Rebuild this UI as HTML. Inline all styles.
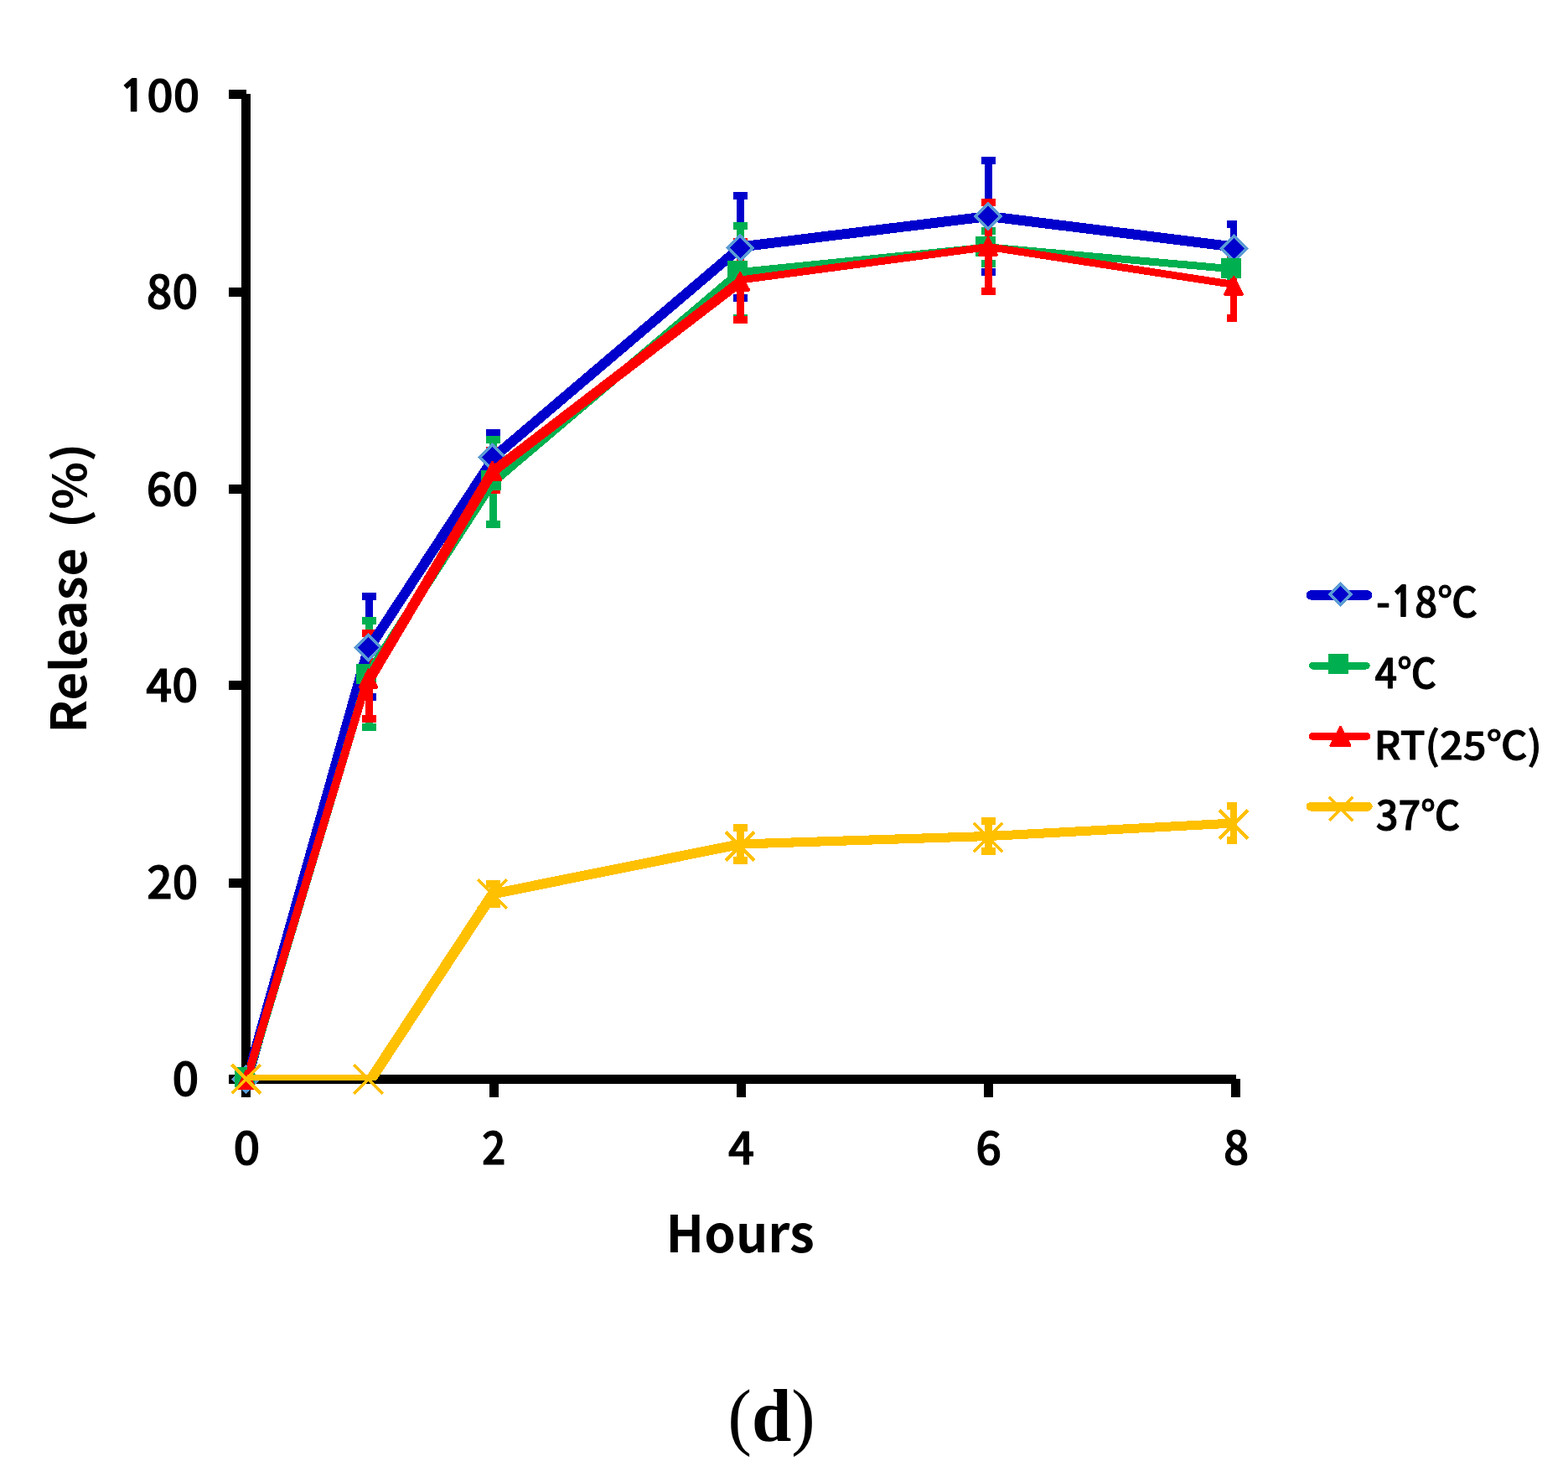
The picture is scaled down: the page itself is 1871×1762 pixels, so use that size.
<!DOCTYPE html>
<html><head><meta charset="utf-8"><title>Release chart (d)</title>
<style>html,body{margin:0;padding:0;background:#fff;}svg{display:block;}</style></head>
<body><svg width="1871" height="1762" viewBox="0 0 1871 1762" shape-rendering="crispEdges">
<rect width="1871" height="1762" fill="#fff"/>
<rect x="288" y="112" width="11" height="1197" fill="#000"/>
<rect x="273" y="107.0" width="21" height="11.0" fill="#000"/>
<rect x="273" y="343.0" width="21" height="11.0" fill="#000"/>
<rect x="273" y="578.0" width="21" height="11.0" fill="#000"/>
<rect x="273" y="812.0" width="21" height="11.0" fill="#000"/>
<rect x="273" y="1048.0" width="21" height="11.0" fill="#000"/>
<rect x="273" y="1282.0" width="21" height="11.0" fill="#000"/>
<rect x="288" y="1282" width="1187" height="11" fill="#000"/>
<rect x="288.0" y="1287" width="11.0" height="22" fill="#000"/>
<rect x="584.0" y="1287" width="11.0" height="22" fill="#000"/>
<rect x="879.0" y="1287" width="11.0" height="22" fill="#000"/>
<rect x="1174.0" y="1287" width="11.0" height="22" fill="#000"/>
<rect x="1469.0" y="1287" width="11.0" height="22" fill="#000"/>
<defs><clipPath id="pa"><rect x="295" y="100" width="1181" height="1189"/></clipPath></defs>
<g clip-path="url(#pa)">
<path d="M440 711.5V831.4M431.5 711.5H448.5M431.5 831.4H448.5" stroke="#0000CC" stroke-width="9" fill="none"/>
<path d="M588 516.5V574.9M579.5 516.5H596.5M579.5 574.9H596.5" stroke="#0000CC" stroke-width="9" fill="none"/>
<path d="M883.5 233.5V355.4M875.0 233.5H892.0M875.0 355.4H892.0" stroke="#0000CC" stroke-width="9" fill="none"/>
<path d="M1179.5 191.4V324.5M1171.0 191.4H1188.0M1171.0 324.5H1188.0" stroke="#0000CC" stroke-width="9" fill="none"/>
<path d="M1472.5 267.5V321.5M1464.0 267.5H1481.0M1464.0 321.5H1481.0" stroke="#0000CC" stroke-width="9" fill="none"/>
<path d="M440 740.6V867.4M431.5 740.6H448.5M431.5 867.4H448.5" stroke="#00B050" stroke-width="9" fill="none"/>
<path d="M588 524.4V625.5M579.5 524.4H596.5M579.5 625.5H596.5" stroke="#00B050" stroke-width="9" fill="none"/>
<path d="M883.5 269.4V379.5M875.0 269.4H892.0M875.0 379.5H892.0" stroke="#00B050" stroke-width="9" fill="none"/>
<path d="M1179.5 275.3V314.4M1171.0 275.3H1188.0M1171.0 314.4H1188.0" stroke="#00B050" stroke-width="9" fill="none"/>
<path d="M1472.5 310V330M1464.0 310H1481.0M1464.0 330H1481.0" stroke="#00B050" stroke-width="9" fill="none"/>
<path d="M440 755.6V857.3M431.5 755.6H448.5M431.5 857.3H448.5" stroke="#FF0000" stroke-width="9" fill="none"/>
<path d="M588 537.5V584.5M579.5 537.5H596.5M579.5 584.5H596.5" stroke="#FF0000" stroke-width="9" fill="none"/>
<path d="M883.5 288.6V381.5M875.0 288.6H892.0M875.0 381.5H892.0" stroke="#FF0000" stroke-width="9" fill="none"/>
<path d="M1179.5 241.6V347.5M1171.0 241.6H1188.0M1171.0 347.5H1188.0" stroke="#FF0000" stroke-width="9" fill="none"/>
<path d="M1472.5 302.5V379.5M1464.0 302.5H1481.0M1464.0 379.5H1481.0" stroke="#FF0000" stroke-width="9" fill="none"/>
<path d="M588 1054.5V1078.5M579.5 1054.5H596.5M579.5 1078.5H596.5" stroke="#FFC000" stroke-width="9" fill="none"/>
<path d="M883.5 987.5V1026.5M875.0 987.5H892.0M875.0 1026.5H892.0" stroke="#FFC000" stroke-width="9" fill="none"/>
<path d="M1179.5 979.4V1015.5M1171.0 979.4H1188.0M1171.0 1015.5H1188.0" stroke="#FFC000" stroke-width="9" fill="none"/>
<path d="M1472.5 961.5V1002.4M1464.0 961.5H1481.0M1464.0 1002.4H1481.0" stroke="#FFC000" stroke-width="9" fill="none"/>
</g>
<line x1="295" y1="1287.5" x2="440" y2="771.5" stroke="#0000CC" stroke-width="12" stroke-linecap="round" clip-path="url(#pa)"/>
<line x1="441.5" y1="771.5" x2="589.5" y2="545.7" stroke="#0000CC" stroke-width="12" stroke-linecap="round" clip-path="url(#pa)"/>
<line x1="588" y1="546.4" x2="883.5" y2="295.2" stroke="#0000CC" stroke-width="12" stroke-linecap="round" clip-path="url(#pa)"/>
<line x1="883.5" y1="294.5" x2="1179.5" y2="258" stroke="#0000CC" stroke-width="12" stroke-linecap="round" clip-path="url(#pa)"/>
<line x1="1179.5" y1="258" x2="1472.5" y2="294.5" stroke="#0000CC" stroke-width="12" stroke-linecap="round" clip-path="url(#pa)"/>
<path d="M293.5 1272.7L308.3 1287.5L293.5 1302.3L278.7 1287.5Z" fill="#0000CC" stroke="#5B9BD5" stroke-width="3.5" stroke-linejoin="miter"/>
<path d="M439.5 757.5L454.3 772.3L439.5 787.1L424.7 772.3Z" fill="#0000CC" stroke="#5B9BD5" stroke-width="3.5" stroke-linejoin="miter"/>
<path d="M587.5 530.9L602.3 545.7L587.5 560.5L572.7 545.7Z" fill="#0000CC" stroke="#5B9BD5" stroke-width="3.5" stroke-linejoin="miter"/>
<path d="M883.2 280.8L898 295.6L883.2 310.4L868.4 295.6Z" fill="#0000CC" stroke="#5B9BD5" stroke-width="3.5" stroke-linejoin="miter"/>
<path d="M1179 243.2L1193.8 258L1179 272.8L1164.2 258Z" fill="#0000CC" stroke="#5B9BD5" stroke-width="3.5" stroke-linejoin="miter"/>
<path d="M1472.3 281.7L1487.1 296.5L1472.3 311.3L1457.5 296.5Z" fill="#0000CC" stroke="#5B9BD5" stroke-width="3.5" stroke-linejoin="miter"/>
<line x1="295" y1="1287.5" x2="440" y2="804" stroke="#00B050" stroke-width="10" stroke-linecap="round" clip-path="url(#pa)"/>
<line x1="440" y1="804" x2="588" y2="575" stroke="#00B050" stroke-width="11" stroke-linecap="round" clip-path="url(#pa)"/>
<line x1="588" y1="575" x2="883.5" y2="324.5" stroke="#00B050" stroke-width="11" stroke-linecap="round" clip-path="url(#pa)"/>
<line x1="883.5" y1="324.5" x2="1179.5" y2="294.9" stroke="#00B050" stroke-width="9" stroke-linecap="round" clip-path="url(#pa)"/>
<line x1="1179.5" y1="294.9" x2="1472.5" y2="321" stroke="#00B050" stroke-width="9" stroke-linecap="round" clip-path="url(#pa)"/>
<rect x="280" y="1273" width="24" height="24" fill="#00B050"/>
<rect x="425" y="792" width="24" height="24" fill="#00B050"/>
<rect x="573.5" y="560.5" width="24" height="24" fill="#00B050"/>
<rect x="868" y="311" width="24" height="24" fill="#00B050"/>
<rect x="1164" y="282" width="24" height="24" fill="#00B050"/>
<rect x="1457" y="308" width="24" height="24" fill="#00B050"/>
<line x1="294.5" y1="1287.5" x2="439.4" y2="806.4" stroke="#FF0000" stroke-width="9.8" stroke-linecap="round" clip-path="url(#pa)"/>
<line x1="443.1" y1="806.4" x2="588.7" y2="561" stroke="#FF0000" stroke-width="12.3" stroke-linecap="round" clip-path="url(#pa)"/>
<line x1="590" y1="561" x2="885.5" y2="334.5" stroke="#FF0000" stroke-width="12" stroke-linecap="round" clip-path="url(#pa)"/>
<line x1="883.5" y1="334" x2="1179.5" y2="294.5" stroke="#FF0000" stroke-width="8.9" stroke-linecap="round" clip-path="url(#pa)"/>
<line x1="1179.5" y1="294.5" x2="1472.5" y2="339.5" stroke="#FF0000" stroke-width="8.9" stroke-linecap="round" clip-path="url(#pa)"/>
<path d="M294 1277.1L304.5 1298.1L283.5 1298.1Z" fill="#FF0000" stroke="#FF0000" stroke-width="3" stroke-linejoin="round"/>
<path d="M439.5 799L450 820L429 820Z" fill="#FF0000" stroke="#FF0000" stroke-width="3" stroke-linejoin="round"/>
<path d="M587.5 551.5L598 572.5L577 572.5Z" fill="#FF0000" stroke="#FF0000" stroke-width="3" stroke-linejoin="round"/>
<path d="M883.2 325.5L893.7 346.2L872.7 346.2Z" fill="#FF0000" stroke="#FF0000" stroke-width="3" stroke-linejoin="round"/>
<path d="M1179 283.5L1189.5 304.2L1168.5 304.2Z" fill="#FF0000" stroke="#FF0000" stroke-width="3" stroke-linejoin="round"/>
<path d="M1472.2 330.6L1482.7 351.3L1461.7 351.3Z" fill="#FF0000" stroke="#FF0000" stroke-width="3" stroke-linejoin="round"/>
<line x1="295" y1="1287.5" x2="442" y2="1287.5" stroke="#FFC000" stroke-width="11" stroke-linecap="round" clip-path="url(#pa)"/>
<line x1="442.6" y1="1287.5" x2="587.9" y2="1066.5" stroke="#FFC000" stroke-width="12.5" stroke-linecap="round" clip-path="url(#pa)"/>
<line x1="588" y1="1066.5" x2="883.5" y2="1007" stroke="#FFC000" stroke-width="11.8" stroke-linecap="round" clip-path="url(#pa)"/>
<line x1="883.5" y1="1007" x2="1179.5" y2="997.5" stroke="#FFC000" stroke-width="11.1" stroke-linecap="round" clip-path="url(#pa)"/>
<line x1="1179.5" y1="997.5" x2="1472.5" y2="982" stroke="#FFC000" stroke-width="11" stroke-linecap="round" clip-path="url(#pa)"/>
<path d="M276.6 1270.3L310.8 1304.5M276.6 1304.5L310.8 1270.3" stroke="#FFC000" stroke-width="4" fill="none"/>
<path d="M422.4 1270.4L456.6 1304.6M422.4 1304.6L456.6 1270.4" stroke="#FFC000" stroke-width="4" fill="none"/>
<path d="M570.4 1049.4L604.6 1083.6M570.4 1083.6L604.6 1049.4" stroke="#FFC000" stroke-width="4" fill="none"/>
<path d="M865.9 992.4L900.1 1026.6M865.9 1026.6L900.1 992.4" stroke="#FFC000" stroke-width="4" fill="none"/>
<path d="M1161.9 981.9L1196.1 1016.1M1161.9 1016.1L1196.1 981.9" stroke="#FFC000" stroke-width="4" fill="none"/>
<path d="M1454.9 966.3L1489.1 1000.5M1454.9 1000.5L1489.1 966.3" stroke="#FFC000" stroke-width="4" fill="none"/>
<path d="M1564.3 710H1631.8" stroke="#0000CC" stroke-width="11.3" stroke-linecap="round"/>
<path d="M1599.5 696.6L1611.9 709L1599.5 721.4L1587.1 709Z" fill="#0000CC" stroke="#5B9BD5" stroke-width="3.2" stroke-linejoin="miter"/>
<path d="M1566.3 794.2H1630.4" stroke="#00B050" stroke-width="8.6" stroke-linecap="round"/>
<rect x="1585" y="780.3" width="24" height="24" fill="#00B050"/>
<path d="M1566.4 878.4H1630.6" stroke="#FF0000" stroke-width="9" stroke-linecap="round"/>
<path d="M1599.4 867.5L1610.9 889.3L1587.9 889.3Z" fill="#FF0000" stroke="#FF0000" stroke-width="3" stroke-linejoin="round"/>
<path d="M1564.1 962.2H1632.3" stroke="#FFC000" stroke-width="10.8" stroke-linecap="round"/>
<path d="M1586.2 950.8L1614.6 979.2M1586.2 979.2L1614.6 950.8" stroke="#FFC000" stroke-width="3.6" fill="none"/>
<text transform="matrix(0.55250 0 0 0.52500 141.723 132.850)" font-family="'Noto Sans CJK KR','Liberation Sans',sans-serif" font-weight="500" font-size="100" stroke="#000" stroke-width="2" stroke-linejoin="round" xml:space="preserve"><tspan font-family="NanumGothic,&apos;Noto Sans CJK KR&apos;,sans-serif" font-weight="800" stroke-width="0" font-size="100">1</tspan>00</text>
<text transform="matrix(0.53962 0 0 0.55526 174.742 367.889)" font-family="'Noto Sans CJK KR','Liberation Sans',sans-serif" font-weight="500" font-size="100" stroke="#000" stroke-width="2" stroke-linejoin="round" xml:space="preserve">80</text>
<text transform="matrix(0.53962 0 0 0.55132 174.742 602.797)" font-family="'Noto Sans CJK KR','Liberation Sans',sans-serif" font-weight="500" font-size="100" stroke="#000" stroke-width="2" stroke-linejoin="round" xml:space="preserve">60</text>
<text transform="matrix(0.54404 0 0 0.55132 174.256 836.797)" font-family="'Noto Sans CJK KR','Liberation Sans',sans-serif" font-weight="500" font-size="100" stroke="#000" stroke-width="2" stroke-linejoin="round" xml:space="preserve">40</text>
<text transform="matrix(0.53458 0 0 0.55132 175.296 1071.797)" font-family="'Noto Sans CJK KR','Liberation Sans',sans-serif" font-weight="500" font-size="100" stroke="#000" stroke-width="2" stroke-linejoin="round" xml:space="preserve">20</text>
<text transform="matrix(0.55714 0 0 0.55526 205.571 1306.989)" font-family="'Noto Sans CJK KR','Liberation Sans',sans-serif" font-weight="500" font-size="100" stroke="#000" stroke-width="2" stroke-linejoin="round" xml:space="preserve">0</text>
<text transform="matrix(0.55714 0 0 0.54342 278.571 1388.513)" font-family="'Noto Sans CJK KR','Liberation Sans',sans-serif" font-weight="500" font-size="100" stroke="#000" stroke-width="2" stroke-linejoin="round" xml:space="preserve">0</text>
<text transform="matrix(0.50000 0 0 0.55067 575.000 1389.049)" font-family="'Noto Sans CJK KR','Liberation Sans',sans-serif" font-weight="500" font-size="100" stroke="#000" stroke-width="2" stroke-linejoin="round" xml:space="preserve">2</text>
<text transform="matrix(0.54630 0 0 0.54324 869.054 1388.557)" font-family="'Noto Sans CJK KR','Liberation Sans',sans-serif" font-weight="500" font-size="100" stroke="#000" stroke-width="2" stroke-linejoin="round" xml:space="preserve">4</text>
<text transform="matrix(0.54000 0 0 0.54868 1164.340 1388.903)" font-family="'Noto Sans CJK KR','Liberation Sans',sans-serif" font-weight="500" font-size="100" stroke="#000" stroke-width="2" stroke-linejoin="round" xml:space="preserve">6</text>
<text transform="matrix(0.53061 0 0 0.55263 1459.878 1388.795)" font-family="'Noto Sans CJK KR','Liberation Sans',sans-serif" font-weight="500" font-size="100" stroke="#000" stroke-width="2" stroke-linejoin="round" xml:space="preserve">8</text>
<text transform="matrix(0.60248 0 0 0.60800 794.578 1493.892)" font-family="'Noto Sans CJK KR','Liberation Sans',sans-serif" font-weight="700" font-size="100" xml:space="preserve">Hours</text>
<text transform="matrix(0 -0.58093 0.58025 0 103.320 874.528)" font-family="'Noto Sans CJK KR','Liberation Sans',sans-serif" font-weight="700" font-size="100" xml:space="preserve">Release <tspan x="420.73" y="0.11" font-size="92.36" textLength="174.67" lengthAdjust="spacingAndGlyphs">(%)</tspan></text>
<text transform="matrix(0.47854 0 0 0.49079 1641.986 736.018)" font-family="'Noto Sans CJK KR','Liberation Sans',sans-serif" font-weight="500" font-size="100" stroke="#000" stroke-width="2" stroke-linejoin="round" xml:space="preserve">-<tspan font-family="NanumGothic,&apos;Noto Sans CJK KR&apos;,sans-serif" font-weight="800" stroke-width="0" font-size="100">1</tspan>8℃</text>
<text transform="matrix(0.46753 0 0 0.49189 1640.532 820.908)" font-family="'Noto Sans CJK KR','Liberation Sans',sans-serif" font-weight="500" font-size="100" stroke="#000" stroke-width="2" stroke-linejoin="round" xml:space="preserve">4℃</text>
<text transform="matrix(0.48830 0 0 0.46234 1639.605 905.675)" font-family="'Noto Sans CJK KR','Liberation Sans',sans-serif" font-weight="500" font-size="100" stroke="#000" stroke-width="2" stroke-linejoin="round" xml:space="preserve">RT(25℃)</text>
<text transform="matrix(0.47000 0 0 0.48158 1641.660 989.937)" font-family="'Noto Sans CJK KR','Liberation Sans',sans-serif" font-weight="500" font-size="100" stroke="#000" stroke-width="2" stroke-linejoin="round" xml:space="preserve">37℃</text>
<text transform="matrix(0.85088 0 0 0.88333 868.596 1718.950)" font-family="'Liberation Serif','Noto Serif CJK SC',serif" font-weight="400" font-size="100" xml:space="preserve">(<tspan font-weight="700">d</tspan>)</text>
</svg></body></html>
